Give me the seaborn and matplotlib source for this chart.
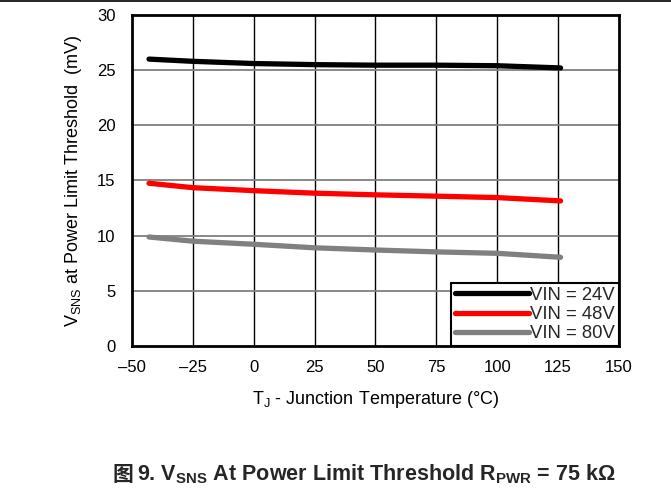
import matplotlib
matplotlib.use("Agg")
import matplotlib.pyplot as plt
import seaborn as sns
import pandas as pd
from matplotlib.lines import Line2D

temps = [-43, -25, 0, 25, 50, 75, 100, 126]
vin24 = [26.0, 25.8, 25.6, 25.5, 25.45, 25.45, 25.4, 25.2]
vin48 = [14.75, 14.35, 14.08, 13.85, 13.7, 13.58, 13.45, 13.15]
vin80 = [9.88, 9.5, 9.22, 8.9, 8.7, 8.53, 8.4, 8.04]
series = ["VIN = 24V", "VIN = 48V", "VIN = 80V"]
colors = ["#000000", "#ff0000", "#808080"]
xticks = [-50, -25, 0, 25, 50, 75, 100, 125, 150]
yticks = [0, 5, 10, 15, 20, 25, 30]

sns.set_theme(style="white")
plt.rcParams["font.family"] = ["Liberation Sans", "Noto Sans CJK SC", "DejaVu Sans"]
plt.rcParams["mathtext.fontset"] = "custom"
plt.rcParams["mathtext.rm"] = "Liberation Sans"
plt.rcParams["mathtext.it"] = "Liberation Sans"
plt.rcParams["mathtext.bf"] = "Liberation Sans:bold"

df = pd.DataFrame({
    "T": temps * 3,
    "V": vin24 + vin48 + vin80,
    "series": [s for s in series for _ in temps],
})

fig = plt.figure(figsize=(6.71, 4.91), dpi=100)
ax = fig.add_axes([0.1967, 0.2953, 0.9225 - 0.1967, 0.9695 - 0.2953])

sns.lineplot(data=df, x="T", y="V", hue="series", palette=dict(zip(series, colors)),
             linewidth=3.8, ax=ax, legend=False, solid_capstyle="round", zorder=3)

ax.set_xlim(-50, 150)
ax.set_ylim(0, 30)
ax.set_xticks(xticks)
ax.set_yticks(yticks)
ax.set_xticklabels([str(t).replace("-", "\u2013") for t in xticks])
ax.set_yticklabels([str(t) for t in yticks])
ax.tick_params(axis="both", length=0, labelsize=12, colors="black")
ax.tick_params(axis="x", pad=10)
ax.tick_params(axis="y", pad=12)

for x in xticks[1:-1]:
    ax.axvline(x, color="black", linewidth=1.0, zorder=1)
for y in yticks[1:-1]:
    ax.axhline(y, color="#808080", linewidth=1.3, zorder=1)

for s in ax.spines.values():
    s.set_color("black")
    s.set_linewidth(2.0)
    s.set_visible(True)

ax.set_xlabel("T$_\\mathrm{J}$ - Junction Temperature (°C)", fontsize=13, color="black", labelpad=10)
ax.set_ylabel("V$_\\mathrm{SNS}$ at Power Limit Threshold  (mV)", fontsize=13, color="black", labelpad=9)

handles = [Line2D([0], [0], color=c, linewidth=3.8, solid_capstyle="round") for c in colors]
leg = ax.legend(handles, series, loc="lower right", fontsize=13.3, frameon=True,
                fancybox=False, edgecolor="black", borderaxespad=0, handlelength=4.0,
                handletextpad=0.1, labelspacing=0.12, borderpad=0.2)
leg.get_frame().set_linewidth(1.5)
leg.get_frame().set_alpha(1)

fig.add_artist(Line2D([0, 1], [0.997, 0.997], color="black", linewidth=1.2, transform=fig.transFigure))

fig.text(112 / 671, 0.034, "图", ha="left", va="center", fontsize=15, fontweight="bold",
         family=["Noto Sans CJK SC"])
fig.text(137 / 671, 0.034, "9. V$_\\mathbf{SNS}$ At Power Limit Threshold R$_\\mathbf{PWR}$ = 75 kΩ",
         ha="left", va="center", fontsize=15.5, fontweight="bold")

fig.savefig("out.png", dpi=100)
